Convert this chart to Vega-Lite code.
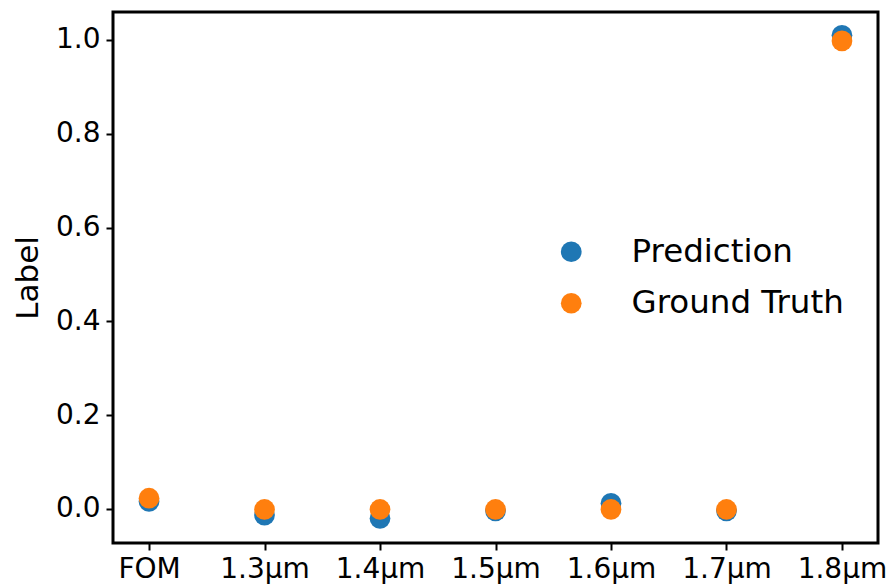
{
  "$schema": "https://vega.github.io/schema/vega-lite/v6.json",
  "width": 765,
  "height": 531,
  "autosize": "none",
  "padding": {"left": 113, "top": 12, "right": 11, "bottom": 43},
  "background": "white",
  "config": {
    "font": "DejaVu Sans",
    "view": {"stroke": "black", "strokeWidth": 3},
    "axis": {"grid": false, "domain": false, "tickColor": "black", "tickWidth": 2, "tickSize": 7, "labelColor": "black", "labelFont": "DejaVu Sans", "titleFont": "DejaVu Sans", "titleColor": "black", "titleFontWeight": "normal"}
  },
  "data": {
    "values": [
      {"wavelength": "FOM", "series": "Prediction", "value": 0.016},
      {"wavelength": "1.3µm", "series": "Prediction", "value": -0.013},
      {"wavelength": "1.4µm", "series": "Prediction", "value": -0.02},
      {"wavelength": "1.5µm", "series": "Prediction", "value": -0.004},
      {"wavelength": "1.6µm", "series": "Prediction", "value": 0.012},
      {"wavelength": "1.7µm", "series": "Prediction", "value": -0.004},
      {"wavelength": "1.8µm", "series": "Prediction", "value": 1.01},
      {"wavelength": "FOM", "series": "Ground Truth", "value": 0.023},
      {"wavelength": "1.3µm", "series": "Ground Truth", "value": -0.001},
      {"wavelength": "1.4µm", "series": "Ground Truth", "value": -0.001},
      {"wavelength": "1.5µm", "series": "Ground Truth", "value": -0.001},
      {"wavelength": "1.6µm", "series": "Ground Truth", "value": -0.001},
      {"wavelength": "1.7µm", "series": "Ground Truth", "value": -0.001},
      {"wavelength": "1.8µm", "series": "Ground Truth", "value": 0.998}
    ]
  },
  "mark": {"type": "point", "filled": true, "opacity": 1, "size": 430, "shape": "circle"},
  "encoding": {
    "x": {
      "field": "wavelength", "type": "nominal",
      "sort": ["FOM", "1.3µm", "1.4µm", "1.5µm", "1.6µm", "1.7µm", "1.8µm"],
      "scale": {"type": "point", "padding": 0.312},
      "axis": {"title": null, "labelAngle": 0, "labelFontSize": 28, "labelPadding": 5}
    },
    "y": {
      "field": "value", "type": "quantitative",
      "scale": {"domain": [-0.0725, 1.0597], "nice": false, "zero": false},
      "axis": {"title": "Label", "values": [0, 0.2, 0.4, 0.6, 0.8, 1.0], "format": ".1f", "labelFontSize": 28, "labelPadding": 6, "titleFontSize": 31, "titlePadding": 11}
    },
    "color": {
      "field": "series", "type": "nominal",
      "scale": {"domain": ["Prediction", "Ground Truth"], "range": ["#1f77b4", "#ff7f0e"]},
      "legend": {"title": null, "orient": "none", "legendX": 442, "legendY": 223.5, "padding": 0, "symbolType": "circle", "symbolSize": 430, "symbolOpacity": 1, "labelFontSize": 32.5, "labelColor": "black", "labelOffset": 44, "labelLimit": 0, "rowPadding": 18.5}
    }
  }
}
